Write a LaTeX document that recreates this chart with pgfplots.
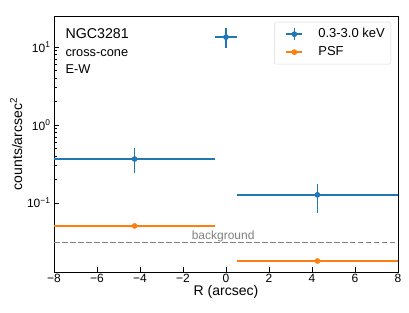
\documentclass[border=0pt]{standalone}
\usepackage{fontspec}
\setmainfont{Liberation Sans}
\usepackage{pgfplots}
\pgfplotsset{compat=1.18}
\definecolor{tabblue}{HTML}{1F77B4}
\definecolor{taborange}{HTML}{FF7F0E}
\begin{document}
\begin{tikzpicture}
\begin{axis}[
  scale only axis,
  width=344bp, height=256bp,
  xmin=-8, xmax=8,
  ymode=log, ymin=0.013, ymax=25,
  clip=false,
  axis line style={line width=0.7pt},
  tick align=inside,
  xtick pos=lower, ytick pos=left,
  major tick length=4.5bp, minor tick length=2.5bp,
  tick style={line width=0.6pt, black},
  xtick={-8,-6,-4,-2,0,2,4,6,8},
  xticklabels={−8,−6,−4,−2,0,2,4,6,8},
  ytick={0.1,1,10},
  yticklabels={10\textsuperscript{−1},10\textsuperscript{0},10\textsuperscript{1}},
  ticklabel style={font=\fontsize{12bp}{14bp}\selectfont},
  xticklabel style={yshift=1bp},
  xlabel={R (arcsec)},
  ylabel={counts/arcsec\textsuperscript{2}},
  label style={font=\fontsize{14bp}{16bp}\selectfont},
  xlabel style={yshift=4bp},
  ylabel style={yshift=-2bp},
  legend style={at={(rel axis cs:0.9797,0.9766)}, anchor=north east,
    draw=black!15, rounded corners=2pt, font=\fontsize{13bp}{15bp}\selectfont,
    row sep=0bp, inner xsep=4bp, inner ysep=3bp,
    nodes={text height=9.5bp, text depth=2.5bp, inner ysep=3bp, inner xsep=2bp}},
  legend cell align=left,
]
\path (rel axis cs:-0.157,-0.160) rectangle (rel axis cs:1.032,1.0625);
\addplot[tabblue, mark=*, mark size=2.6bp, only marks,
  legend image code/.code={
    \path[draw=none, fill=none] (-8bp,0bp) -- (30bp,0bp);
    \draw[tabblue, line width=1.5bp] (0bp,0bp) -- (16bp,0bp);
    \draw[tabblue, line width=1.5bp] (8bp,-6bp) -- (8bp,6bp);
    \fill[tabblue] (8bp,0bp) circle (2.6bp);}]
  coordinates {(-4.25,0.366) (0,13.4) (4.25,0.127)};
\addlegendentry{0.3-3.0 keV}
\addplot[taborange, mark=*, mark size=2.6bp, only marks,
  legend image code/.code={
    \path[draw=none, fill=none] (-8bp,0bp) -- (30bp,0bp);
    \draw[taborange, line width=1.5bp] (0bp,0bp) -- (16bp,0bp);
    \fill[taborange] (8bp,0bp) circle (2.6bp);}]
  coordinates {(-4.25,0.0507) (4.25,0.018)};
\addlegendentry{PSF}
% error bars
\addplot[tabblue, line width=1.5bp, forget plot] coordinates {(-8,0.366) (-0.5,0.366)};
\addplot[tabblue, line width=1.5bp, forget plot] coordinates {(-0.5,13.4) (0.5,13.4)};
\addplot[tabblue, line width=1.5bp, forget plot] coordinates {(0.5,0.127) (8,0.127)};
\addplot[tabblue, line width=1.5bp, forget plot] coordinates {(-4.25,0.24) (-4.25,0.51)};
\addplot[tabblue, line width=1.5bp, forget plot] coordinates {(0,9.8) (0,17.4)};
\addplot[tabblue, line width=1.5bp, forget plot] coordinates {(4.25,0.0744) (4.25,0.175)};
\addplot[taborange, line width=1.5bp, forget plot] coordinates {(-8,0.0507) (-0.5,0.0507)};
\addplot[taborange, line width=1.5bp, forget plot] coordinates {(0.5,0.018) (8,0.018)};
\addplot[gray, line width=1.3bp, dash pattern=on 5.5bp off 2.5bp, forget plot] coordinates {(-8,0.031) (8,0.031)};
\node[anchor=base west, text=gray, inner sep=0bp, font=\fontsize{12bp}{14bp}\selectfont] at (axis cs:-1.6,0.0342) {background};
\node[anchor=base west, inner sep=0pt, font=\fontsize{14.2bp}{16bp}\selectfont] at (rel axis cs:0.033,0.912) {NGC3281};
\node[anchor=base west, inner sep=0pt, font=\fontsize{12.8bp}{15bp}\selectfont] at (rel axis cs:0.033,0.840) {cross-cone};
\node[anchor=base west, inner sep=0pt, font=\fontsize{12.8bp}{15bp}\selectfont] at (rel axis cs:0.033,0.777) {E-W};
\end{axis}
\end{tikzpicture}
\end{document}
